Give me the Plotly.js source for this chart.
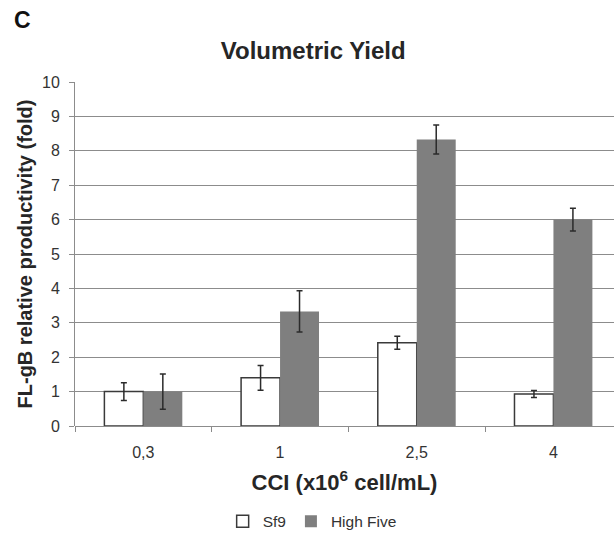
<!DOCTYPE html>
<html>
<head>
<meta charset="utf-8">
<script src="https://cdn.plot.ly/plotly-3.0.1.min.js"></script>
<style>html,body{margin:0;padding:0;background:#fff}#chart{width:614px;height:534px}</style>
</head>
<body>
<div id="chart"></div>
<script>
const categories = ["0,3", "1", "2,5", "4"];
const sf9Values = [1.0, 1.4, 2.42, 0.93];
const sf9Errors = [0.26, 0.36, 0.19, 0.10];
const highFiveValues = [1.0, 3.33, 8.33, 6.0];
const highFiveErrors = [0.51, 0.60, 0.42, 0.33];
const seriesNames = ["Sf9", "High Five"];

const font = "Liberation Sans, Arial, sans-serif";
const errStyle = {type: "data", visible: true, thickness: 1.5, width: 3, color: "#2b2b2b"};

const traces = [
  {
    type: "bar", name: seriesNames[0], x: categories, y: sf9Values,
    marker: {color: "#ffffff", line: {color: "#3a3a3a", width: 1.5}},
    error_y: Object.assign({array: sf9Errors}, errStyle)
  },
  {
    type: "bar", name: seriesNames[1], x: categories, y: highFiveValues,
    marker: {color: "#7f7f7f", line: {color: "#7f7f7f", width: 0}},
    error_y: Object.assign({array: highFiveErrors}, errStyle)
  }
];

const layout = {
  width: 614, height: 534,
  margin: {l: 75, r: 0, t: 82, b: 108, autoexpand: false},
  paper_bgcolor: "#ffffff", plot_bgcolor: "#ffffff",
  font: {family: font, color: "#333333", size: 16},
  barmode: "group", bargap: 0.43, bargroupgap: 0,
  showlegend: true,
  title: {text: "Volumetric Yield", font: {family: font, size: 24, color: "#262626", weight: "bold"},
          x: 0.442, xref: "paper", xanchor: "center", y: 0.905, yref: "container", yanchor: "middle"},
  xaxis: {
    type: "category", range: [-0.5, 3.443], autorange: false, automargin: false,
    showgrid: false, zeroline: false, showline: false,
    ticks: "outside", tickson: "boundaries", ticklen: 5, tickcolor: "#8a8a8a", tickwidth: 1,
    ticklabelstandoff: 15,
    tickfont: {family: font, size: 16, color: "#333333"},
    title: {text: "CCI (x10<sup>6</sup> cell/mL)", font: {family: font, size: 22, color: "#262626", weight: "bold"}, standoff: 14}
  },
  yaxis: {
    range: [0, 10], autorange: false, dtick: 1, automargin: false,
    showgrid: true, gridcolor: "#8c8c8c", gridwidth: 1,
    zeroline: true, zerolinecolor: "#8c8c8c", zerolinewidth: 1,
    showline: true, linecolor: "#8c8c8c", linewidth: 1,
    ticks: "outside", ticklen: 5, tickcolor: "#8c8c8c",
    ticklabelstandoff: 6,
    tickfont: {family: font, size: 16, color: "#333333"},
    title: {text: "FL-gB relative productivity (fold)", font: {family: font, size: 20, color: "#262626", weight: "bold"}, standoff: 4}
  },
  legend: {
    orientation: "h", x: 0.44, xanchor: "center", y: -0.278, yanchor: "middle",
    font: {family: font, size: 15.5, color: "#333333"}, itemwidth: 30, traceorder: "normal",
    bgcolor: "rgba(0,0,0,0)"
  },
  annotations: [
    {text: "C", xref: "paper", yref: "paper", x: (12 - 75) / 539, y: (426 - 20) / 344,
     xanchor: "left", yanchor: "middle", showarrow: false,
     font: {family: font, size: 23, color: "#111111", weight: "bold"}}
  ]
};

Plotly.newPlot("chart", traces, layout, {displayModeBar: false, staticPlot: true});
</script>
</body>
</html>
